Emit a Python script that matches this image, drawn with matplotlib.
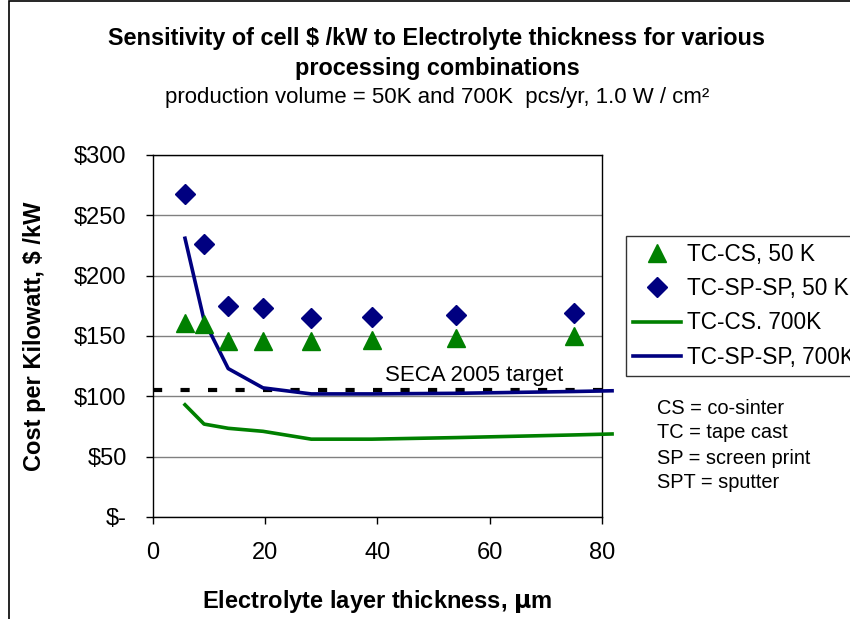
import matplotlib
matplotlib.use('Agg')
import matplotlib.pyplot as plt
from matplotlib.patches import Rectangle

plt.rcParams['font.family'] = ['Liberation Sans', 'DejaVu Sans']

# thickness (um) for the 50K point series
thick_pts = [5.7, 9.1, 13.4, 19.6, 28.2, 39.0, 54.0, 75.0]
tc_cs_50k = [161, 160, 146, 146, 146, 147, 148, 150]
tc_sp_sp_50k = [268, 226, 175, 173, 165, 166, 167, 169]

# 700K curves
thick_line = [5.7, 9.1, 13.4, 19.6, 28.2, 39.0, 54.0, 75.0, 81.8]
tc_cs_700k = [93, 77, 73.5, 71, 64.5, 64.5, 65.8, 68, 68.8]
tc_sp_sp_700k = [231, 163, 123, 107, 102, 102, 102.5, 104, 104.6]

seca_x = [0, 81.8]
seca_y = [105, 105]

yticks = [0, 50, 100, 150, 200, 250, 300]
ytick_labels = ['$-', '$50', '$100', '$150', '$200', '$250', '$300']
xticks = [0, 20, 40, 60, 80]

fig = plt.figure(figsize=(8.5, 6.19), dpi=100)
ax = fig.add_axes([0.18, 0.1648, 0.5282, 0.5848])

ax.set_xlim(0, 80)
ax.set_ylim(0, 300)
ax.set_yticks(yticks)
ax.set_yticklabels(ytick_labels)
ax.set_xticks(xticks)
ax.tick_params(axis='both', labelsize=17, length=5, width=1, direction='out', colors='black')
ax.tick_params(axis='y', pad=14)
ax.tick_params(axis='x', pad=13)
ax.grid(axis='y', color='#808080', linewidth=1)
ax.set_axisbelow(True)
for s in ax.spines.values():
    s.set_color('black')
    s.set_linewidth(1)

# SECA target line
ax.plot(seca_x, seca_y, color='black', linewidth=3, linestyle=(0, (2.2, 4.4)),
        dash_capstyle='butt', clip_on=False, zorder=2)
ax.text(41.4, 117, 'SECA 2005 target', fontsize=16, va='center', ha='left')

ax.plot(thick_pts, tc_cs_50k, linestyle='none', marker='^', markersize=12.5,
        color='#008000', label='TC-CS, 50 K', zorder=4)
ax.plot(thick_pts, tc_sp_sp_50k, linestyle='none', marker='D', markersize=10,
        color='#000080', label='TC-SP-SP, 50 K', zorder=4)
ax.plot(thick_line, tc_cs_700k, color='#008000', linewidth=2.6,
        label='TC-CS. 700K', clip_on=False, zorder=3)
ax.plot(thick_line, tc_sp_sp_700k, color='#000080', linewidth=2.6,
        label='TC-SP-SP, 700K', clip_on=False, zorder=3)

leg = ax.legend(loc='upper left', bbox_to_anchor=(626 / 850, 1 - 236 / 619),
                bbox_transform=fig.transFigure, fontsize=16.3, frameon=True,
                fancybox=False, edgecolor='black', handlelength=2.15,
                labelspacing=0.5, borderpad=0.3, handletextpad=0.25,
                borderaxespad=0)
leg.get_frame().set_linewidth(1)

ax.set_xlabel('Electrolyte layer thickness, $\\mathbf{\\mu}$m', fontsize=17,
              fontweight='bold', labelpad=17)
ax.set_ylabel('Cost per Kilowatt, $ /kW', fontsize=17, fontweight='bold', labelpad=20)

# titles
fig.text(0.514, 1 - 39 / 619, 'Sensitivity of cell $ /kW to Electrolyte thickness for various',
         ha='center', va='center', fontsize=16.9, fontweight='bold')
fig.text(0.514, 1 - 69 / 619, 'processing combinations', ha='center', va='center',
         fontsize=16.9, fontweight='bold')
fig.text(0.514, 1 - 97 / 619, 'production volume = 50K and 700K  pcs/yr, 1.0 W / cm²',
         ha='center', va='center', fontsize=16)

notes = ['CS = co-sinter', 'TC = tape cast', 'SP = screen print', 'SPT = sputter']
for i, n in enumerate(notes):
    fig.text(657 / 850, 1 - (408 + 25 * i) / 619, n, ha='left', va='center', fontsize=14.4)

# outer frame (right and bottom edges fall outside the image, as in the original)
fig.patches.append(Rectangle((9 / 850, -0.1), 1.2, 1.1 - 1 / 619, transform=fig.transFigure,
                             fill=False, edgecolor='black', linewidth=1.2))

fig.savefig('out.png', dpi=100)
